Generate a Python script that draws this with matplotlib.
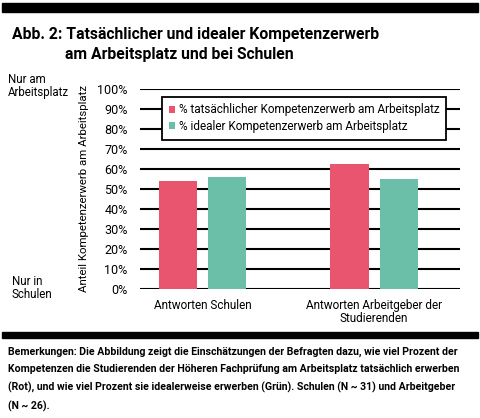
import matplotlib.pyplot as plt
from matplotlib.patches import Rectangle

# daten
gruppen = ["Antworten Schulen", "Antworten Arbeitgeber der\nStudierenden"]
tatsaechlich = [54, 62.3]
ideal = [56, 55]
yticks = [0, 10, 20, 30, 40, 50, 60, 70, 80, 90, 100]

rot = "#E9546F"
gruen = "#6BBFA8"
plt.rcParams['font.family'] = ['Roboto', 'DejaVu Sans']

fig = plt.figure(figsize=(4.8, 4.18), dpi=100)
W, H = 480, 418

# balken oben / unten
fig.patches.append(Rectangle((2 / W, 1 - 12 / H), 476 / W, 9 / H,
                             transform=fig.transFigure, color="black"))
fig.patches.append(Rectangle((2 / W, 1 - 338 / H), 476 / W, 6 / H,
                             transform=fig.transFigure, color="black"))

fig.text(12 / W, 1 - 35 / H, "Abb. 2: Tatsächlicher und idealer Kompetenzerwerb",
         fontsize=11.3, fontweight="bold", va="center")
fig.text(65 / W, 1 - 54 / H, "am Arbeitsplatz und bei Schulen",
         fontsize=11.3, fontweight="bold", va="center")
fig.text(8 / W, 1 - 86 / H, "Nur am\nArbeitsplatz", fontsize=8.3, va="center",
         linespacing=1.05)
fig.text(12 / W, 1 - 288 / H, "Nur in\nSchulen", fontsize=8.3, va="center",
         linespacing=1.05)

ax = fig.add_axes([140 / W, 1 - 289 / H, 320 / W, 200 / H])
x = [0, 1]
off = 0.143
bw = 0.222
ax.bar([i - off for i in x], tatsaechlich, bw, color=rot, zorder=3,
       label="% tatsächlicher Kompetenzerwerb am Arbeitsplatz")
ax.bar([i + off for i in x], ideal, bw, color=gruen, zorder=3,
       label="% idealer Kompetenzerwerb am Arbeitsplatz")
for v in yticks:
    ax.axhline(v, color="black", lw=1.5, zorder=1)

ax.set_xlim(-0.364, 1.501)
ax.set_ylim(0, 100)
ax.set_yticks(yticks)
ax.set_yticklabels([f"{v}%" for v in yticks], fontsize=9)
ax.set_xticks(x)
ax.set_xticklabels(gruppen, fontsize=8.5, linespacing=1.0)
ax.tick_params(length=0, pad=9)
ax.tick_params(axis="x", pad=7)
for s in ax.spines.values():
    s.set_visible(False)
ax.set_ylabel("Anteil Kompetenzerwerb am Arbeitsplatz", fontsize=8.2, labelpad=6)

leg = ax.legend(loc="upper left", bbox_to_anchor=(0.069, 0.96), fontsize=8.5,
                frameon=True, fancybox=False, handlelength=0.55, handleheight=0.55,
                handletextpad=0.3, borderpad=0.55, labelspacing=0.3,
                borderaxespad=0)
leg.get_frame().set_edgecolor("black")
leg.get_frame().set_linewidth(1.3)
leg.get_frame().set_alpha(1)

note = ("Bemerkungen: Die Abbildung zeigt die Einschätzungen der Befragten dazu, wie viel Prozent der\n"
        "Kompetenzen die Studierenden der Höheren Fachprüfung am Arbeitsplatz tatsächlich erwerben\n"
        "(Rot), und wie viel Prozent sie idealerweise erwerben (Grün). Schulen (N ~ 31) und Arbeitgeber\n"
        "(N ~ 26).")
fig.text(8 / W, 1 - 347 / H, note, fontsize=7.6, fontweight="bold", va="top",
         linespacing=1.85)

fig.savefig("out.png", dpi=100)
